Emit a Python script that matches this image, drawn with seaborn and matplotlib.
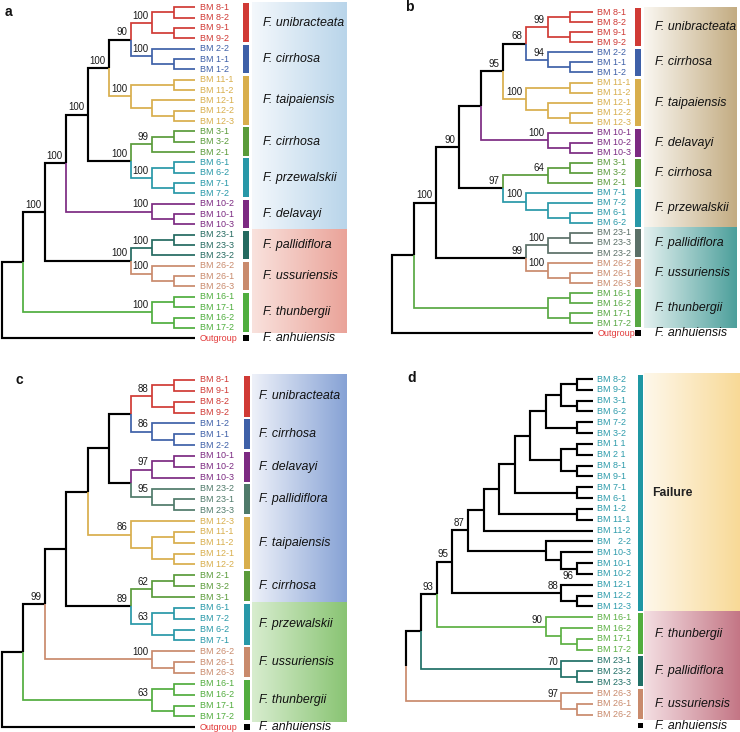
import numpy as np
import matplotlib
matplotlib.use("Agg")
import matplotlib.pyplot as plt
from matplotlib.colors import LinearSegmentedColormap
from matplotlib.patches import Rectangle
import seaborn as sns

sns.set_theme(style="white")
plt.rcParams["font.family"] = ["Liberation Sans", "DejaVu Sans"]

# clade colours
RED = "#d03a35"
BLUE = "#3e60a8"
GOLD = "#d8ae4c"
GREEN = "#5a9b3a"
CYAN = "#2898a8"
PURPLE = "#7c2a82"
TAN = "#c98a6c"
THUN = "#4fae3e"
OUT_RED = "#e33a3a"

# ---- trees: "(kids)support@level" ; leaves sit at the tip level ----
# panel a
a_uni = "((BM 8-1,BM 8-2)@8,(BM 9-1,BM 9-2)@8)100@7"
a_cir = "(BM 2-2,(BM 1-1,BM 1-2)@8)100@7"
a_taip = "((BM 11-1,BM 11-2)@8,(BM 12-1,(BM 12-2,BM 12-3)@8)@7)100@6"
a_gcir = "((BM 3-1,BM 3-2)@8,BM 2-1)99@7"
a_prz = "((BM 6-1,BM 6-2)@8,(BM 7-1,BM 7-2)@8)100@7"
a_del = "(BM 10-2,(BM 10-1,BM 10-3)@8)100@7"
a_pal = "((BM 23-1,BM 23-3)@8,BM 23-2)100@7"
a_uss = "(BM 26-2,(BM 26-1,BM 26-3)@8)100@7"
a_thun = "((BM 16-1,BM 17-1)@8,(BM 16-2,BM 17-2)@8)100@7"
tree_a = (f"((((((({a_uni},{a_cir})90@6,{a_taip})100@5,({a_gcir},{a_prz})100@6)100@4,"
          f"{a_del})100@3,({a_pal},{a_uss})100@6)100@2,{a_thun})@1,Outgroup)@0")

# panel b
b_uni = "((BM 8-1,BM 8-2)@8,(BM 9-1,BM 9-2)@8)99@7"
b_cir = "(BM 2-2,(BM 1-1,BM 1-2)@8)94@7"
b_taip = "((BM 11-1,BM 11-2)@8,(BM 12-1,(BM 12-2,BM 12-3)@8)@7)100@6"
b_del = "(BM 10-1,(BM 10-2,BM 10-3)@8)100@7"
b_gcir = "((BM 3-1,BM 3-2)@8,BM 2-1)64@7"
b_prz = "(BM 7-1,(BM 7-2,(BM 6-1,BM 6-2)@8)@7)100@6"
b_pal = "((BM 23-1,BM 23-3)@8,BM 23-2)100@7"
b_uss = "(BM 26-2,(BM 26-1,BM 26-3)@8)100@7"
b_thun = "((BM 16-1,BM 16-2)@8,(BM 17-1,BM 17-2)@8)@7"
tree_b = (f"((((((({b_uni},{b_cir})68@6,{b_taip})95@5,{b_del})@4,({b_gcir},{b_prz})97@5)90@3,"
          f"({b_pal},{b_uss})99@6)100@2,{b_thun})@1,Outgroup)@0")

# panel c
c_uni = "((BM 8-1,BM 9-1)@8,(BM 8-2,BM 9-2)@8)88@7"
c_cir = "(BM 1-2,(BM 1-1,BM 2-2)@8)86@7"
c_del = "((BM 10-1,BM 10-2)@8,BM 10-3)97@7"
c_pal = "(BM 23-2,(BM 23-1,BM 23-3)@8)95@7"
c_taip = "(BM 12-3,((BM 11-1,BM 11-2)@8,(BM 12-1,BM 12-2)@8)@7)86@6"
c_gcir = "((BM 2-1,BM 3-2)@8,BM 3-1)62@7"
c_prz = "((BM 6-1,BM 7-2)@8,(BM 6-2,BM 7-1)@8)63@7"
c_uss = "(BM 26-2,(BM 26-1,BM 26-3)@8)100@7"
c_thun = "((BM 16-1,BM 16-2)@8,(BM 17-1,BM 17-2)@8)63@7"
tree_c = (f"((((((({c_uni},{c_cir})@6,({c_del},{c_pal})@6)@5,{c_taip})@4,"
          f"({c_gcir},{c_prz})89@6)@3,{c_uss})99@2,{c_thun})@1,Outgroup)@0")

# panel d
d_top = "((BM 8-2,BM 9-2)@12,(BM 3-1,BM 6-2)@12)@11"
d_mid = "((BM 1 1,BM 2 1)@12,(BM 8-1,BM 9-1)@12)@11"
d_fail1 = (f"((((({d_top},(BM 7-2,BM 3-2)@12)@10,{d_mid})@9,(BM 7-1,BM 6-1)@12)@8,"
           f"(BM 1-2,BM 11-1)@12)@7,BM 11-2)@6")
d_fail2 = "(BM   2-2,(BM 10-3,(BM 10-1,BM 10-2)_96@12)@11)@10"
d_fail3 = "(BM 12-1,(BM 12-2,BM 12-3)@12)88@11"
d_thun = "(BM 16-1,(BM 16-2,(BM 17-1,BM 17-2)@12)@11)90@10"
d_pal = "(BM 23-1,(BM 23-2,BM 23-3)@12)70@11"
d_uss = "(BM 26-3,(BM 26-1,BM 26-2)@12)97@11"
tree_d = (f"((((({d_fail1},{d_fail2})87@5,{d_fail3})95@4,{d_thun})93@3,{d_pal})@2,"
          f"{d_uss})@1,Outgroup)@0")

# groups: (species, number of leaves, label colour, branch colour)
groups_a = [("F. unibracteata", 4, RED, RED), ("F. cirrhosa", 3, BLUE, BLUE),
            ("F. taipaiensis", 5, GOLD, GOLD), ("F. cirrhosa", 3, GREEN, GREEN),
            ("F. przewalskii", 4, CYAN, CYAN), ("F. delavayi", 3, PURPLE, PURPLE),
            ("F. pallidiflora", 3, "#246a60", "#246a60"), ("F. ussuriensis", 3, TAN, TAN),
            ("F. thunbergii", 4, THUN, THUN)]
groups_b = [("F. unibracteata", 4, RED, RED), ("F. cirrhosa", 3, BLUE, BLUE),
            ("F. taipaiensis", 5, GOLD, GOLD), ("F. delavayi", 3, PURPLE, PURPLE),
            ("F. cirrhosa", 3, GREEN, GREEN), ("F. przewalskii", 4, CYAN, CYAN),
            ("F. pallidiflora", 3, "#5b7068", "#5b7068"), ("F. ussuriensis", 3, TAN, TAN),
            ("F. thunbergii", 4, "#58a843", "#58a843")]
groups_c = [("F. unibracteata", 4, RED, RED), ("F. cirrhosa", 3, BLUE, BLUE),
            ("F. delavayi", 3, PURPLE, PURPLE), ("F. pallidiflora", 3, "#4f7a6a", "#4f7a6a"),
            ("F. taipaiensis", 5, GOLD, GOLD), ("F. cirrhosa", 3, GREEN, GREEN),
            ("F. przewalskii", 4, CYAN, CYAN), ("F. ussuriensis", 3, TAN, TAN),
            ("F. thunbergii", 4, "#52ad3e", "#52ad3e")]
groups_d = [("Failure", 22, "#2e9cac", "black"), ("F. thunbergii", 4, "#5cb043", "#5cb043"),
            ("F. pallidiflora", 3, "#1f6f66", "#1f6f66"), ("F. ussuriensis", 3, TAN, TAN)]
bar_colors_d = ["#1f97a3", "#52ad3e", "#1f6f66", TAN]

# background boxes: (number of leaves, left colour, right colour)
boxes_a = [(22, "#f4f8fc", "#b9d5ea"), (10, "#f9e2dd", "#eaa399")]
boxes_b = [(22, "#faf7f1", "#c3ac82"), (10, "#e4f1f0", "#4c9f9b")]
boxes_c = [(21, "#eef1f9", "#86a2d5"), (11, "#d8edcf", "#89c473")]
boxes_d = [(22, "#fef8eb", "#f8d996"), (10, "#f4dfe3", "#c37584")]

# panel layout in figure pixels
panels = [
    dict(tree=tree_a, groups=groups_a, bars=None, boxes=boxes_a, letter="a", lxy=(5, 12),
         x0=1.7, dx=21.48, tip=9, y0=7.3, dy=10.34, bar_x=246, box=(252, 347), sp_x=263),
    dict(tree=tree_b, groups=groups_b, bars=None, boxes=boxes_b, letter="b", lxy=(405, 7),
         x0=391.7, dx=22.33, tip=9, y0=12.3, dy=10.03, bar_x=638, box=(644, 737), sp_x=655),
    dict(tree=tree_c, groups=groups_c, bars=None, boxes=boxes_c, letter="c", lxy=(15, 380),
         x0=1.7, dx=21.48, tip=9, y0=380, dy=10.85, bar_x=247, box=(252, 347), sp_x=259),
    dict(tree=tree_d, groups=groups_d, bars=bar_colors_d, boxes=boxes_d, letter="d", lxy=(407, 378),
         x0=390, dx=15.59, tip=13, y0=379, dy=10.83, bar_x=640.5, box=(643.5, 740), sp_x=655),
]


def parse_tree(s):
    pos = 0

    def token():
        nonlocal pos
        start = pos
        while pos < len(s) and s[pos] not in ",()":
            pos += 1
        return s[start:pos]

    def node():
        nonlocal pos
        if s[pos] == "(":
            pos += 1
            kids = [node()]
            while s[pos] == ",":
                pos += 1
                kids.append(node())
            pos += 1
            label, level = token().split("@")
            return {"kids": kids, "label": label, "level": int(level)}
        return {"kids": [], "name": token(), "label": ""}

    return node()


def layout(n, tip, counter):
    if not n["kids"]:
        n["level"] = tip
        n["i"] = counter[0]
        n["leaves"] = [counter[0]]
        counter[0] += 1
    else:
        for k in n["kids"]:
            layout(k, tip, counter)
        n["i"] = (n["kids"][0]["i"] + n["kids"][-1]["i"]) / 2
        n["leaves"] = sum([k["leaves"] for k in n["kids"]], [])


fig = plt.figure(figsize=(7.4, 7.32), dpi=100)
ax = fig.add_axes([0, 0, 1, 1])

for P in panels:
    X = lambda lev, P=P: P["x0"] + lev * P["dx"]
    Y = lambda i, P=P: P["y0"] + i * P["dy"]
    root = parse_tree(P["tree"])
    layout(root, P["tip"], [0])

    # leaf -> group
    leaf_group = {}
    start = 0
    spans = []
    for g, (name, n, lc, bc) in enumerate(P["groups"]):
        for i in range(start, start + n):
            leaf_group[i] = g
        spans.append((start, start + n - 1))
        start += n
    n_in = start

    def edge_color(node):
        gs = {leaf_group.get(i) for i in node["leaves"]}
        if len(gs) == 1 and None not in gs:
            return P["groups"][gs.pop()][3]
        return "black"

    def draw(n):
        for k in n["kids"]:
            c = edge_color(k)
            lw = 1.55 if c == "black" else 1.25
            ax.plot([X(n["level"]), X(n["level"]), X(k["level"])],
                    [Y(n["i"]), Y(k["i"]), Y(k["i"])],
                    color=c, lw=lw, solid_joinstyle="miter", solid_capstyle="butt", zorder=3)
            draw(k)
        lab = n["label"]
        if lab.startswith("_"):
            ax.text(X(n["level"]) - 3.5, Y(n["i"]) + 2.5, lab[1:], ha="right", va="top",
                    fontsize=7, color="#1a1a1a", zorder=5)
        elif lab:
            ax.text(X(n["level"]) - 3.5, Y(n["i"]) - 2.2, lab, ha="right", va="bottom",
                    fontsize=7, color="#1a1a1a", zorder=5)
        if not n["kids"]:
            g = leaf_group.get(n["i"])
            col = P["groups"][g][2] if g is not None else OUT_RED
            ax.text(X(P["tip"]) + 4.5, Y(n["i"]), n["name"], ha="left", va="center",
                    fontsize=6.5, color=col, zorder=5)

    draw(root)

    # gradient boxes
    s0 = 0
    for n, c0, c1 in P["boxes"]:
        cmap = LinearSegmentedColormap.from_list("g", [c0, c1])
        top, bot = Y(s0 - 0.5), Y(s0 + n - 0.5)
        ax.imshow(np.linspace(0, 1, 256)[None, :], cmap=cmap, aspect="auto",
                  extent=(P["box"][0], P["box"][1], bot, top), zorder=0, interpolation="bilinear")
        s0 += n

    # bars and species names
    for g, (name, n, lc, bc) in enumerate(P["groups"]):
        a0, a1 = spans[g]
        bcol = P["bars"][g] if P["bars"] else lc
        ax.add_patch(Rectangle((P["bar_x"] - 2.8, Y(a0 - 0.38)), 5.6, Y(a1 + 0.38) - Y(a0 - 0.38),
                               color=bcol, lw=0, zorder=2))
        if name == "Failure":
            ax.text(P["sp_x"] - 2.5, Y((a0 + a1) / 2), name, fontsize=8.8, fontweight="bold",
                    va="center", ha="left", color="#222222", zorder=5)
        else:
            ax.text(P["sp_x"], Y((a0 + a1) / 2), name, fontsize=8.9, style="italic",
                    va="center", ha="left", color="#111111", zorder=5)
    # outgroup
    ax.add_patch(Rectangle((P["bar_x"] - 2.8, Y(n_in) - 2.8), 5.6, 5.6, color="black", lw=0, zorder=2))
    ax.text(P["sp_x"], Y(n_in), "F. anhuiensis", fontsize=8.9, style="italic",
            va="center", ha="left", color="#111111", zorder=5)

    ax.text(P["lxy"][0], P["lxy"][1], P["letter"], fontsize=10, fontweight="bold",
            va="center", ha="left", color="#111111")

ax.set_xlim(0, 740)
ax.set_ylim(732, 0)
ax.axis("off")
fig.savefig("out.png", dpi=100)
